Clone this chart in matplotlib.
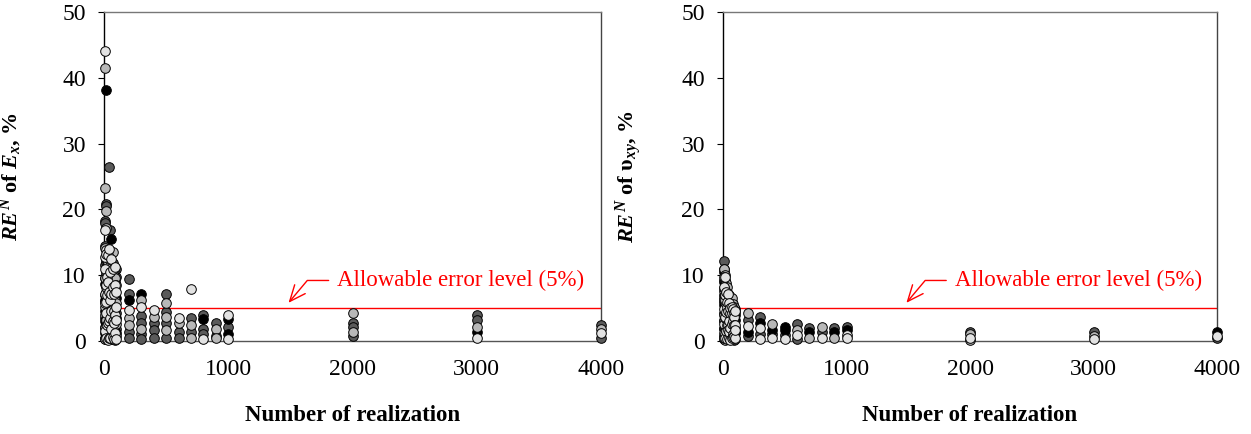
import matplotlib
matplotlib.use("Agg")
import matplotlib.pyplot as plt

plt.rcParams['font.family'] = ['Liberation Serif', 'DejaVu Serif']
plt.rcParams['mathtext.fontset'] = 'custom'
plt.rcParams['mathtext.rm'] = 'Liberation Serif:bold'
plt.rcParams['mathtext.it'] = 'Liberation Serif:bold:italic'
plt.rcParams['mathtext.bf'] = 'Liberation Serif:bold'

# number of realizations (x positions)
n_values = [5, 10, 15, 20, 25, 30, 40, 50, 60, 70, 80, 90, 100,
            200, 300, 400, 500, 600, 700, 800, 900, 1000, 2000, 3000, 4000]

# RE^N of Ex (%) -- one list of values per realization count, per series
ex_black = [[8.7, 4.5, 1.2], [3.0, 0.3, 6.2], [38.2, 2.0, 9.0], [5.5, 2.8], [8.5, 0.8, 3.8],
            [7.0, 10.2, 1.0], [4.2, 9.6, 1.8], [7.8, 3.0], [15.5, 3.2, 0.8], [6.0, 9.8, 1.5],
            [5.2, 2.2], [4.8, 7.5, 0.6], [3.5, 6.5, 1.2],
            [6.2], [7.2], [], [], [], [], [3.3], [], [3.3, 1.1], [], [1.4], []]
ex_dark = [[18.3, 14.5, 0.5, 6.0, 3.5], [18.0, 7.0, 11.5, 2.2], [20.8, 10.0, 5.0, 0.8],
           [20.5, 12.0, 1.0, 7.5], [10.2, 4.5, 13.0, 2.0], [11.5, 3.5, 8.0, 0.5],
           [26.5, 8.5, 0.8, 11.0, 5.5], [16.8, 5.0, 12.2, 1.5], [9.2, 0.3, 11.2, 6.5],
           [11.8, 2.0, 7.0, 4.5], [11.0, 3.8, 8.5, 0.4], [10.8, 2.5, 5.8, 9.0],
           [11.0, 1.8, 9.8, 4.2],
           [9.4, 7.2, 1.4, 0.4], [3.8, 2.8, 1.1, 0.3], [2.7, 1.6, 0.4], [7.1, 4.4, 2.7, 0.4],
           [1.4, 0.4], [3.5, 1.4], [4.0, 1.8, 1.1], [2.8, 0.8], [2.2], [2.8, 2.1, 0.7],
           [3.9, 3.2], [2.4, 0.5]]
ex_light = [[41.5, 2.0, 9.5, 5.2], [23.3, 9.5, 14.2, 4.0], [19.7, 12.5, 7.2, 3.2],
            [17.2, 3.2, 10.5, 0.6], [6.5, 11.2, 1.2], [12.0, 1.5, 6.0, 4.6],
            [6.2, 10.2, 2.0, 12.5], [13.5, 2.2, 8.8, 4.0], [5.8, 8.0, 2.6, 10.5],
            [13.5, 4.0, 9.2, 0.3], [9.5, 1.3, 6.2, 10.8], [6.2, 0.2, 3.5, 9.5],
            [8.5, 0.8, 5.8, 2.6],
            [3.5, 2.4], [6.2, 1.8], [3.7], [5.7, 3.7, 1.6], [2.7], [2.4, 0.4], [],
            [1.8, 0.4], [], [4.3, 1.4], [2.1], [1.8]]
ex_white = [[44.0, 11.0, 7.2, 0.3], [16.8, 1.5, 12.8, 5.8], [6.0, 0.4, 13.8, 8.2],
            [8.5, 4.2, 13.2], [9.8, 2.5, 7.0], [9.0, 0.2, 13.0, 2.8], [14.0, 3.0, 7.5, 0.4],
            [10.5, 0.5, 6.3, 3.5], [12.5, 1.8, 7.2, 4.5], [8.2, 0.6, 11.0, 3.0],
            [7.2, 0.3, 4.6, 2.8], [8.5, 1.2, 4.0, 11.2], [5.2, 0.3, 7.5, 3.2],
            [4.7], [5.2], [4.7], [], [3.5], [7.9], [0.3], [], [3.9, 0.3], [], [0.5], [1.2]]

# RE^N of vxy (%)
vxy_black = [[11.0, 3.0, 7.0], [10.5, 4.2, 0.8], [5.8, 8.6, 2.4], [7.5, 1.0, 4.5], [4.0, 7.8],
             [6.8, 2.8, 0.5], [3.5, 6.0, 1.2], [3.0, 5.2, 0.8], [2.6, 4.8], [2.2, 5.0, 0.4],
             [2.0, 4.0], [1.8, 4.6, 0.5], [1.4, 3.2],
             [1.4], [2.8], [1.7], [2.2, 1.6], [], [1.3], [], [1.3], [1.6], [], [], [1.3]]
vxy_dark = [[12.2, 5.5, 9.0, 1.8], [9.3, 2.0, 6.0], [8.0, 1.3, 4.6], [8.5, 2.8, 5.6, 0.3],
            [6.0, 0.6, 3.2], [7.5, 1.8, 4.2], [5.0, 0.8, 6.8, 2.8], [6.8, 1.5, 3.8],
            [5.5, 3.4, 0.6], [6.0, 1.0, 3.4], [4.9, 0.3, 2.6], [4.5, 2.2, 1.0], [3.9, 1.2, 4.8],
            [3.2, 0.7], [3.7, 1.1], [1.1], [0.9], [2.6, 0.3], [1.9], [1.4], [2.0], [2.2],
            [1.4], [1.3], [0.4]]
vxy_light = [[7.6, 0.3, 4.0], [6.5, 3.2, 11.0], [7.0, 0.2, 10.0], [4.8, 9.2, 2.0],
             [8.8, 2.2, 5.2], [3.8, 8.2, 1.2], [6.3, 4.0, 0.3], [4.5, 7.0, 2.2],
             [6.4, 1.3, 3.8], [3.8, 6.6, 1.8], [3.5, 5.6, 1.5], [3.0, 5.2, 0.2], [4.4, 2.0, 0.3],
             [4.2], [], [2.6], [], [1.7], [0.4], [2.2], [0.4], [], [1.0, 0.2], [0.8], []]
vxy_white = [[9.8, 1.2, 6.2, 8.0], [8.2, 0.5, 4.8, 2.6], [9.8, 3.5, 6.0, 1.0],
             [6.2, 0.4, 3.6, 7.0], [7.4, 4.4, 1.5], [5.2, 0.3, 6.0, 2.4], [7.2, 2.4, 4.6, 1.6],
             [5.8, 0.4, 3.0, 1.4], [4.2, 0.2, 5.0, 2.0], [5.2, 0.5, 2.6, 4.2],
             [4.8, 1.0, 3.0, 0.6], [4.2, 0.8, 3.6, 2.4], [2.4, 0.5, 4.6, 1.6],
             [2.3], [1.9, 0.3], [0.4], [0.3], [0.9], [], [0.4], [], [0.9, 0.4], [0.5], [0.3],
             [0.8]]

allowable = 5.0
x_ticks = [0, 1000, 2000, 3000, 4000]
y_ticks = [0, 10, 20, 30, 40, 50]

shades = ['#5a5a5a', '#000000', '#b8b8b8', '#e2e2e2']


def flatten(groups):
    xs, ys = [], []
    for n, vals in zip(n_values, groups):
        for v in vals:
            xs.append(n)
            ys.append(v)
    return xs, ys


fig = plt.figure(figsize=(12.51, 4.34), dpi=100)
ax1 = fig.add_axes([104 / 1251, 93 / 434, 497 / 1251, 329 / 434])
ax2 = fig.add_axes([723 / 1251, 93 / 434, 494 / 1251, 329 / 434])

panels = [
    (ax1, [ex_dark, ex_black, ex_light, ex_white], r'$RE^{N}$ of $E_{x}$, %'),
    (ax2, [vxy_dark, vxy_black, vxy_light, vxy_white], r'$RE^{N}$ of $\mathrm{\upsilon}_{xy}$, %'),
]

for ax, series, ylab in panels:
    # allowable error line sits behind the markers
    ax.plot([100, 4000], [allowable, allowable], color='red', lw=1, zorder=1)
    for groups, c in zip(series, shades):
        xs, ys = flatten(groups)
        ax.scatter(xs, ys, s=48, facecolor=c, edgecolor='black', linewidth=0.7,
                   zorder=3, clip_on=False)

    ax.annotate('Allowable error level (5%)', xy=(1485, 5.8), xytext=(1875, 9.2),
                ha='left', va='center', color='red', fontsize=16.5,
                arrowprops=dict(arrowstyle='->,head_length=0.7,head_width=0.3',
                                color='red', lw=1, shrinkA=4, shrinkB=0,
                                connectionstyle='angle,angleA=0,angleB=50,rad=0'))

    ax.set_xlim(0, 4000)
    ax.set_ylim(0, 50)
    ax.set_xticks(x_ticks)
    ax.set_yticks(y_ticks)
    ax.tick_params(axis='y', direction='out', length=4, width=0.8, pad=9, labelsize=17)
    ax.tick_params(axis='x', length=0, pad=13, labelsize=17)

    ax.spines['left'].set_color('black')
    ax.spines['bottom'].set_color('#555555')
    ax.spines['top'].set_color('#777777')
    ax.spines['right'].set_color('#444444')
    for sp in ax.spines.values():
        sp.set_linewidth(1)

    ax.set_xlabel('Number of realization', fontsize=16.5, fontweight='bold')
    ax.xaxis.set_label_coords(0.5, -0.195)
    ax.set_ylabel(ylab, fontsize=16, fontweight='bold')
    ax.yaxis.set_label_coords(-0.16, 0.5)

fig.savefig('out.png', dpi=100)
